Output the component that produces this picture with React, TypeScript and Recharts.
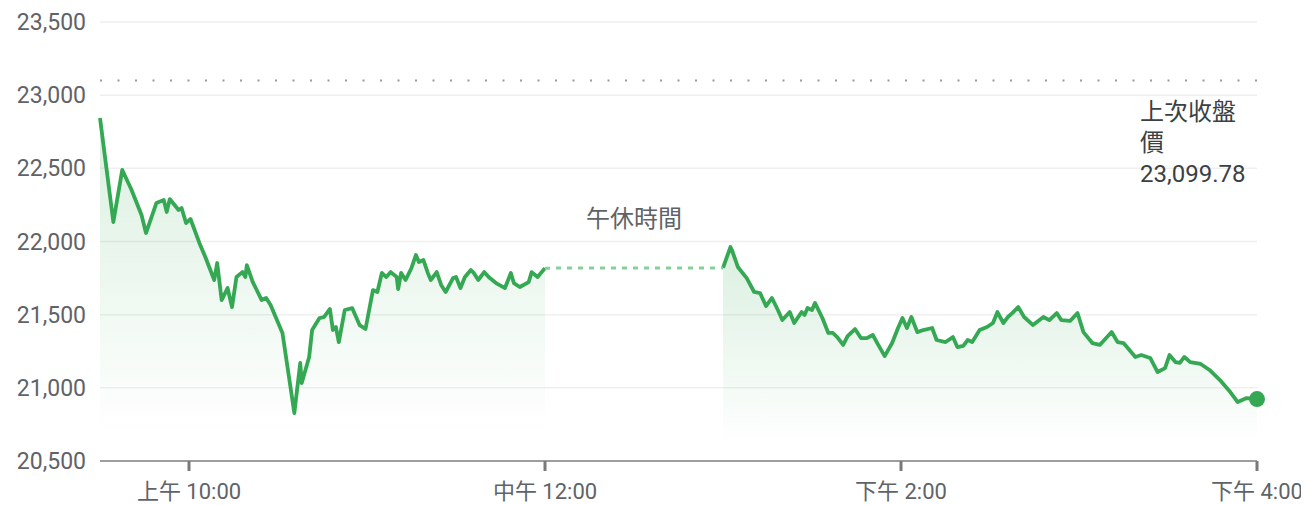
import {
  ComposedChart, Area, Line, XAxis, YAxis, CartesianGrid,
  ReferenceLine, ReferenceArea, ReferenceDot,
} from 'recharts';

// minutes since 9:30
const amTime = [0, 4.5, 7.5, 10.5, 14, 15.5, 19, 21.5, 22.5, 23.5, 26.5, 27.5, 29, 30.5, 33.5, 35.5, 38.5, 39.5, 41, 43, 44.5, 46, 48, 49, 49.5, 51.5, 54.5, 56, 57.5, 61.5, 65.5, 67.5, 68, 70.5, 71.5, 74, 75.5, 77.5, 78.5, 79.5, 80.5, 82.5, 85, 87.5, 89.5, 92, 93.5, 95, 96.5, 98, 100, 100.5, 101.5, 103, 105, 106.5, 107.5, 109, 110.5, 111.5, 113.5, 115, 116.5, 119, 120, 121.5, 123, 125, 126, 127.5, 129.5, 131, 133.5, 136.5, 138.5, 139.5, 141.5, 144.5, 145.5, 147.5, 150];
const amValue = [22844, 22133, 22489, 22359, 22181, 22058, 22263, 22283, 22202, 22290, 22215, 22229, 22126, 22154, 21990, 21894, 21737, 21853, 21600, 21682, 21552, 21757, 21791, 21757, 21839, 21723, 21600, 21614, 21566, 21375, 20828, 21170, 21033, 21211, 21395, 21477, 21484, 21539, 21395, 21416, 21313, 21532, 21545, 21429, 21402, 21668, 21655, 21785, 21757, 21791, 21757, 21675, 21785, 21737, 21819, 21908, 21860, 21874, 21785, 21737, 21791, 21703, 21655, 21750, 21757, 21682, 21757, 21805, 21785, 21737, 21791, 21757, 21716, 21682, 21785, 21716, 21689, 21723, 21791, 21757, 21818];

const pmTime = [210, 212.5, 213, 215, 218, 220.5, 222.5, 224.5, 226.5, 228.5, 230, 232.5, 234, 236.5, 237.5, 238.5, 240, 241, 243.5, 245.5, 247, 248.5, 250.5, 252, 254.5, 256.5, 258.5, 260.5, 262, 264.5, 267, 269, 270.5, 272, 273.5, 275.5, 277.5, 280.5, 282, 285, 287.5, 289, 291, 292.5, 294, 296.5, 299, 301, 302.5, 304.5, 306, 307.5, 309.5, 311.5, 314.5, 318, 320, 322.5, 324, 327, 329.5, 331.5, 334.5, 337, 341, 343, 345, 349, 351, 354, 356.5, 359, 360.5, 362.5, 364, 365.5, 367.5, 371, 374, 377.5, 381, 383.5, 386.5, 390];
const pmValue = [21819, 21962, 21942, 21826, 21750, 21655, 21648, 21559, 21614, 21532, 21463, 21518, 21443, 21518, 21498, 21545, 21532, 21580, 21477, 21375, 21375, 21347, 21293, 21354, 21402, 21340, 21340, 21361, 21306, 21217, 21306, 21409, 21477, 21409, 21484, 21381, 21395, 21409, 21327, 21313, 21347, 21279, 21286, 21327, 21313, 21395, 21416, 21443, 21518, 21443, 21484, 21511, 21552, 21484, 21429, 21484, 21463, 21511, 21463, 21457, 21511, 21381, 21306, 21293, 21381, 21313, 21306, 21211, 21224, 21204, 21108, 21135, 21224, 21176, 21170, 21211, 21176, 21163, 21122, 21053, 20971, 20903, 20930, 20923];

const lunchTime = [150, 210];
const lunchValue = [21818, 21819];

const prevClose = 23099.78;
const prevCloseText = ['上次收盤', '價', '23,099.78'];
const lunchText = '午休時間';

const yTicks = [20500, 21000, 21500, 22000, 22500, 23000, 23500];
const xTicks = [30, 150, 270, 390];
const xTickLabels = ['上午 10:00', '中午 12:00', '下午 2:00', '下午 4:00'];

const GREEN = '#34a853';

type Row = { t: number; am?: number; pm?: number; lunch?: number };

function buildRows(): Row[] {
  const map = new Map<number, Row>();
  const put = (t: number, key: 'am' | 'pm' | 'lunch', v: number) => {
    const r = map.get(t) ?? { t };
    r[key] = v;
    map.set(t, r);
  };
  amTime.forEach((t, i) => put(t, 'am', amValue[i]));
  pmTime.forEach((t, i) => put(t, 'pm', pmValue[i]));
  lunchTime.forEach((t, i) => put(t, 'lunch', lunchValue[i]));
  return [...map.values()].sort((a, b) => a.t - b.t);
}

const rows = buildRows();

export default function App() {
  return (
    <div style={{ fontFamily: "Roboto, 'Noto Sans CJK TC', sans-serif" }}>
      <ComposedChart
        width={1301}
        height={497}
        data={rows}
        margin={{ top: 14, right: 52, left: 0, bottom: 4 }}
      >
        <defs>
          <linearGradient id="fadeGreen" x1="0" y1="0" x2="0" y2="1">
            <stop offset="0%" stopColor={GREEN} stopOpacity={0.3} />
            <stop offset="92%" stopColor={GREEN} stopOpacity={0} />
          </linearGradient>
        </defs>
        <CartesianGrid vertical={false} stroke="#efefef" strokeWidth={1.5} />
        <XAxis
          dataKey="t"
          type="number"
          domain={[0, 390]}
          ticks={xTicks}
          interval={0}
          height={40}
          tickFormatter={(v: number) => xTickLabels[xTicks.indexOf(v)] ?? ''}
          axisLine={{ stroke: '#9e9e9e', strokeWidth: 2 }}
          tickLine={{ stroke: '#7a7a7a', strokeWidth: 3 }}
          tickSize={10}
          tickMargin={12}
          tick={{ fill: '#5f6368', fontSize: 22 }}
        />
        <YAxis
          type="number"
          domain={[20500, 23500]}
          ticks={yTicks}
          width={92}
          axisLine={false}
          tickLine={false}
          tickSize={0}
          tickMargin={14}
          tickFormatter={(v: number) => v.toLocaleString('en-US')}
          tick={{ fill: '#5f6368', fontSize: 23 }}
        />
        <ReferenceArea
          x1={lunchTime[0]}
          x2={lunchTime[1]}
          fill="none"
          fillOpacity={0}
          stroke="none"
          label={(p: any) => {
            const vb = p.viewBox;
            return (
              <text x={vb.x + vb.width / 2} y={vb.y + 205} textAnchor="middle" fill="#5f6368" fontSize={24}>
                {lunchText}
              </text>
            );
          }}
        />
        <ReferenceLine
          y={prevClose}
          stroke="#9a9a9a"
          strokeWidth={2}
          strokeDasharray="2 15.5"
          label={(p: any) => {
            const vb = p.viewBox;
            const x = vb.x + vb.width - 117;
            return (
              <text x={x} y={vb.y + 39} fill="#3c4043" fontSize={24}>
                {prevCloseText.map((s, i) => (
                  <tspan key={i} x={x} dy={i === 0 ? 0 : 31}>{s}</tspan>
                ))}
              </text>
            );
          }}
        />
        <Area
          dataKey="am"
          type="linear"
          stroke={GREEN}
          strokeWidth={3.8}
          strokeLinejoin="round"
          fill="url(#fadeGreen)"
          isAnimationActive={false}
          dot={false}
          activeDot={false}
        />
        <Area
          dataKey="pm"
          type="linear"
          stroke={GREEN}
          strokeWidth={3.8}
          strokeLinejoin="round"
          fill="url(#fadeGreen)"
          isAnimationActive={false}
          dot={false}
          activeDot={false}
        />
        <Line
          dataKey="lunch"
          type="linear"
          stroke="#86cf98"
          strokeWidth={3}
          strokeDasharray="5 6"
          dot={false}
          activeDot={false}
          isAnimationActive={false}
        />
        <ReferenceDot
          x={pmTime[pmTime.length - 1]}
          y={pmValue[pmValue.length - 1]}
          r={8}
          fill={GREEN}
          stroke="none"
        />
      </ComposedChart>
    </div>
  );
}
